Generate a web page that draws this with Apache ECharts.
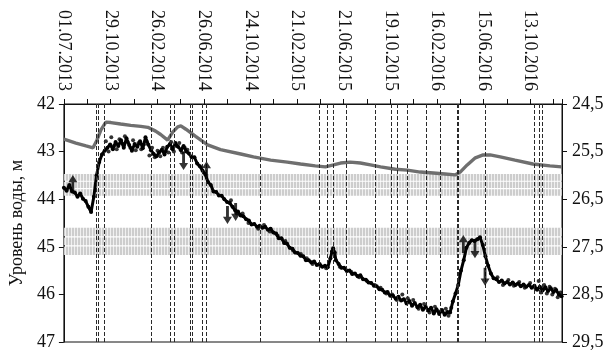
<!DOCTYPE html>
<html>
<head>
<meta charset="utf-8">
<script src="https://cdn.jsdelivr.net/npm/echarts@6/dist/echarts.min.js"></script>
<style>
  html, body { margin: 0; padding: 0; background: #fff; }
  #chart { width: 616px; height: 351px; }
</style>
</head>
<body>
<div id="chart"></div>
<script>
// Time is counted in days from the first observation date, 01.07.2013.
const START = Date.UTC(2013, 6, 1);
const DAY = 86400000;
const AXIS_END_DAY = 1282;
const TICK_STEP_DAYS = 60;
const LABEL_STEP_DAYS = 120;

// Groundwater level in the well (left axis, m), day offsets and values
const levelDays = [
  0, 7, 14, 21, 28, 35, 42, 49, 56, 63, 70, 77, 84, 91, 98, 105, 112, 119, 126, 133,
  140, 147, 154, 161, 168, 175, 182, 189, 196, 203, 210, 217, 224, 231, 238, 245, 252, 259, 266, 273,
  280, 287, 294, 301, 308, 315, 322, 329, 336, 343, 350, 357, 364, 371, 378, 385, 392, 399, 406, 413,
  420, 427, 434, 441, 448, 455, 462, 469, 476, 483, 490, 497, 504, 511, 518, 525, 532, 539, 546, 553,
  560, 567, 574, 581, 588, 595, 602, 609, 616, 623, 630, 637, 644, 651, 658, 665, 672, 679, 686, 690,
  693, 697, 700, 707, 714, 721, 728, 735, 742, 749, 756, 763, 770, 777, 784, 791, 798, 805, 812, 819,
  826, 833, 840, 847, 854, 861, 868, 875, 882, 889, 896, 903, 910, 917, 924, 931, 938, 945, 952, 959,
  966, 973, 980, 987, 994, 1001, 1008, 1015, 1022, 1029, 1036, 1043, 1050, 1057, 1064, 1071, 1078, 1085, 1092, 1099,
  1106, 1113, 1120, 1127, 1134, 1141, 1148, 1155, 1162, 1169, 1176, 1183, 1190, 1197, 1204, 1211, 1218, 1225, 1232, 1239,
  1246, 1253, 1260, 1267, 1274, 1281
];
const levelValues = [
  43.76, 43.82, 43.70, 43.84, 43.86, 43.95, 43.88, 43.99, 44.04, 44.16, 44.27, 43.95, 43.50, 43.22, 43.06, 42.98, 42.92, 42.85, 42.95, 42.80,
  42.88, 42.76, 42.92, 42.72, 42.86, 42.98, 42.84, 42.90, 42.78, 42.93, 42.70, 42.85, 42.97, 43.05, 43.10, 43.02, 42.96, 43.06, 42.90, 42.84,
  42.95, 42.82, 42.90, 42.97, 42.88, 43.00, 43.04, 43.12, 43.12, 43.25, 43.31, 43.40, 43.48, 43.64, 43.70, 43.84, 43.85, 43.92, 43.93, 44.00,
  44.06, 44.08, 44.16, 44.24, 44.26, 44.34, 44.36, 44.42, 44.45, 44.53, 44.52, 44.58, 44.56, 44.60, 44.58, 44.64, 44.62, 44.70, 44.72, 44.82,
  44.82, 44.92, 44.93, 45.02, 45.04, 45.12, 45.13, 45.19, 45.20, 45.28, 45.28, 45.33, 45.31, 45.38, 45.36, 45.42, 45.40, 45.43, 45.24, 45.10,
  45.03, 45.12, 45.28, 45.36, 45.44, 45.44, 45.51, 45.50, 45.57, 45.56, 45.62, 45.60, 45.68, 45.69, 45.75, 45.76, 45.82, 45.83, 45.89, 45.90,
  45.96, 45.95, 46.03, 46.03, 46.09, 46.05, 46.13, 46.10, 46.19, 46.14, 46.24, 46.18, 46.27, 46.22, 46.32, 46.26, 46.34, 46.28, 46.40, 46.31,
  46.41, 46.33, 46.43, 46.37, 46.38, 46.15, 45.98, 45.80, 45.50, 45.28, 45.02, 44.92, 44.86, 44.88, 44.84, 44.80, 44.96, 45.20, 45.40, 45.56,
  45.66, 45.68, 45.74, 45.71, 45.77, 45.74, 45.79, 45.75, 45.80, 45.77, 45.83, 45.79, 45.84, 45.80, 45.86, 45.82, 45.90, 45.84, 45.92, 45.85,
  45.93, 45.87, 45.95, 45.91, 46.00, 46.04
];

// Intermediate readings of the same well, shown as loose dots
const extraDays = [
  108, 115, 122, 129, 136, 143, 150, 157, 164, 171, 178, 185, 192, 199, 206, 213, 220, 227, 234, 241,
  248, 255, 262, 269, 276, 283, 290, 297, 304, 311, 318,
  430, 445, 460, 475, 500, 515, 530, 550, 570, 590, 610, 625, 640, 660, 675,
  710, 725, 740, 760, 780, 800, 815, 830, 845,
  857, 871, 885, 899, 913, 927, 941, 955, 969, 983, 990, 997,
  1116, 1130, 1144, 1158, 1172, 1186, 1200, 1214, 1222, 1228, 1236, 1243, 1250, 1257, 1264, 1271, 1278
];
const extraValues = [
  42.78, 43.00, 42.70, 42.88, 42.95, 42.74, 42.83, 42.68, 42.80, 42.92, 42.76, 42.97, 42.82, 42.95, 42.85, 42.78, 43.08, 42.92, 43.12, 42.98,
  43.10, 42.92, 42.99, 43.02, 42.80, 43.00, 42.88, 42.82, 43.02, 42.92, 42.96,
  44.02, 44.30, 44.30, 44.50, 44.62, 44.54, 44.68, 44.76, 44.88, 45.08, 45.15, 45.24, 45.36, 45.40, 45.45,
  45.42, 45.47, 45.53, 45.64, 45.72, 45.80, 45.86, 45.98, 46.00,
  46.12, 46.00, 46.08, 46.12, 46.30, 46.20, 46.38, 46.26, 46.36, 46.30, 46.45, 46.28,
  45.64, 45.80, 45.70, 45.82, 45.74, 45.86, 45.76, 45.88, 45.72, 45.96, 45.80, 45.98, 45.84, 46.00, 45.88, 46.06, 45.96
];

// Second level curve (right axis), day offsets and values
const refDays = [
  0, 31, 57, 75, 85, 95, 108, 121, 146, 172, 198, 216, 236, 249, 267, 280, 293, 301, 314, 339,
  370, 403, 455, 488, 532, 575, 609, 647, 673, 694, 712, 737, 763, 789, 815, 853, 884, 917, 951, 981,
  1007, 1020, 1038, 1059, 1079, 1097, 1123, 1161, 1207, 1251, 1281
];
const refValues = [
  25.24, 25.32, 25.38, 25.42, 25.26, 25.05, 24.88, 24.89, 24.92, 24.95, 24.97, 24.99, 25.07, 25.14, 25.26, 25.09, 24.98, 24.96, 25.03, 25.18,
  25.36, 25.46, 25.55, 25.61, 25.68, 25.72, 25.76, 25.80, 25.82, 25.78, 25.74, 25.72, 25.74, 25.78, 25.82, 25.87, 25.89, 25.93, 25.95, 25.97,
  25.99, 25.93, 25.78, 25.63, 25.57, 25.57, 25.61, 25.68, 25.76, 25.80, 25.82
];

// Event dates shown as dashed verticals
const eventDates = [
  '23.09.2013', '27.09.2013', '12.10.2013', '12.02.2014', '31.03.2014', '10.04.2014',
  '21.05.2014', '27.05.2014', '21.06.2014', '02.07.2014', '19.11.2014', '20.04.2015',
  '09.05.2015', '26.05.2015', '28.06.2015', '11.09.2015', '21.10.2015', '07.11.2015',
  '01.12.2015', '19.01.2016', '24.02.2016', '09.04.2016', '12.04.2016', '19.06.2016',
  '23.10.2016', '06.11.2016', '12.11.2016'
];

// Rise / fall markers on the level curve (day offset, level at arrow centre)
const upDays = [23, 367, 1028];
const upValues = [43.68, 43.39, 44.94];
const downDays = [308, 421, 442, 1058, 1084];
const downValues = [43.20, 44.33, 44.27, 45.05, 45.63];

// Shaded level zones (left axis, m)
const bandTops = [43.47, 44.60];
const bandBottoms = [43.93, 45.17];

function parseDate(s) {
  const [d, m, y] = s.split('.').map(Number);
  return Math.round((Date.UTC(y, m - 1, d) - START) / DAY);
}
function fmtDay(v) {
  const dt = new Date(START + v * DAY);
  const dd = String(dt.getUTCDate()).padStart(2, '0');
  const mm = String(dt.getUTCMonth() + 1).padStart(2, '0');
  return dd + '.' + mm + '.' + dt.getUTCFullYear();
}

// Striped fill for the zones
const stripe = document.createElement('canvas');
stripe.width = 3; stripe.height = 2;
const sctx = stripe.getContext('2d');
sctx.fillStyle = '#cdcdcd'; sctx.fillRect(0, 0, 2, 2);
sctx.fillStyle = '#f0f0f0'; sctx.fillRect(2, 0, 1, 2);

const zoneAreas = [];
bandTops.forEach((top, i) => {
  const h = (bandBottoms[i] - top) / 3;
  const g = 0.012;
  for (let r = 0; r < 3; r++) {
    zoneAreas.push([
      { yAxis: top + r * h + (r > 0 ? g : 0) },
      { yAxis: top + (r + 1) * h - (r < 2 ? g : 0) }
    ]);
  }
});

const SERIF = '"Liberation Serif", "DejaVu Serif", serif';
const axisColor = '#111';
const ARROW = 'path://M5,0 L10,12 L6.6,12 L6.6,30 L3.4,30 L3.4,12 L0,12 Z';

const chart = echarts.init(document.getElementById('chart'), null, { renderer: 'canvas' });
chart.setOption({
  animation: false,
  backgroundColor: '#fff',
  grid: { left: 62, right: 54, top: 104, bottom: 9, show: true, borderColor: axisColor, borderWidth: 1, containLabel: false },
  xAxis: {
    type: 'value',
    position: 'top',
    min: 0,
    max: AXIS_END_DAY,
    interval: TICK_STEP_DAYS,
    axisLine: { show: true, lineStyle: { color: axisColor, width: 1 } },
    axisTick: { show: true, inside: false, length: 5, lineStyle: { color: axisColor } },
    splitLine: { show: false },
    axisLabel: {
      rotate: 90,
      interval: 0,
      margin: 13,
      color: '#111',
      fontFamily: SERIF,
      fontSize: 18,
      formatter: v => (v % LABEL_STEP_DAYS === 0 && v <= AXIS_END_DAY - 30) ? fmtDay(v) : ''
    }
  },
  yAxis: [
    {
      type: 'value',
      inverse: true,
      min: 42, max: 47, interval: 1,
      name: 'Уровень воды, м',
      nameLocation: 'middle',
      nameGap: 37,
      nameRotate: 90,
      nameTextStyle: { fontFamily: SERIF, fontSize: 18, color: '#111' },
      axisLine: { show: true, lineStyle: { color: axisColor } },
      axisTick: { show: true, length: 5, lineStyle: { color: axisColor } },
      splitLine: { show: false },
      axisLabel: { margin: 9, color: '#111', fontFamily: SERIF, fontSize: 18 }
    },
    {
      type: 'value',
      position: 'right',
      inverse: true,
      min: 24.5, max: 29.5, interval: 1,
      axisLine: { show: true, lineStyle: { color: axisColor } },
      axisTick: { show: true, length: 5, lineStyle: { color: axisColor } },
      splitLine: { show: false },
      axisLabel: {
        margin: 10, color: '#111', fontFamily: SERIF, fontSize: 18,
        formatter: v => v.toFixed(1).replace('.', ',')
      }
    }
  ],
  series: [
    {
      name: 'zones',
      type: 'line',
      z: 1,
      data: [[0, 42]],
      symbol: 'none',
      lineStyle: { opacity: 0 },
      silent: true,
      markArea: {
        silent: true,
        itemStyle: { color: { image: stripe, repeat: 'repeat' } },
        data: zoneAreas
      },
      markLine: {
        silent: true,
        symbol: ['none', 'none'],
        label: { show: false },
        lineStyle: { type: [4, 2], color: '#2a2a2a', width: 1 },
        data: eventDates.map(s => ({ xAxis: parseDate(s) }))
      }
    },
    {
      name: 'ref',
      type: 'line',
      yAxisIndex: 1,
      z: 3,
      data: refDays.map((d, i) => [d, refValues[i]]),
      symbol: 'none',
      lineStyle: { color: '#6f6f6f', width: 3.4 }
    },
    {
      name: 'level',
      type: 'line',
      z: 4,
      data: levelDays.map((d, i) => [d, levelValues[i]]),
      symbol: 'circle',
      symbolSize: 4,
      itemStyle: { color: '#000' },
      lineStyle: { color: '#000', width: 3 }
    },
    {
      name: 'levelDots',
      type: 'scatter',
      z: 4,
      data: extraDays.map((d, i) => [d, extraValues[i]]),
      symbol: 'circle',
      symbolSize: 4,
      itemStyle: { color: '#000' }
    },
    {
      name: 'up',
      type: 'scatter',
      z: 5,
      data: upDays.map((d, i) => [d, upValues[i]]),
      symbol: ARROW,
      symbolSize: [9, 18],
      itemStyle: { color: '#000' }
    },
    {
      name: 'down',
      type: 'scatter',
      z: 5,
      data: downDays.map((d, i) => [d, downValues[i]]),
      symbol: ARROW,
      symbolRotate: 180,
      symbolSize: [9, 18],
      itemStyle: { color: '#000' }
    }
  ]
});
</script>
</body>
</html>
